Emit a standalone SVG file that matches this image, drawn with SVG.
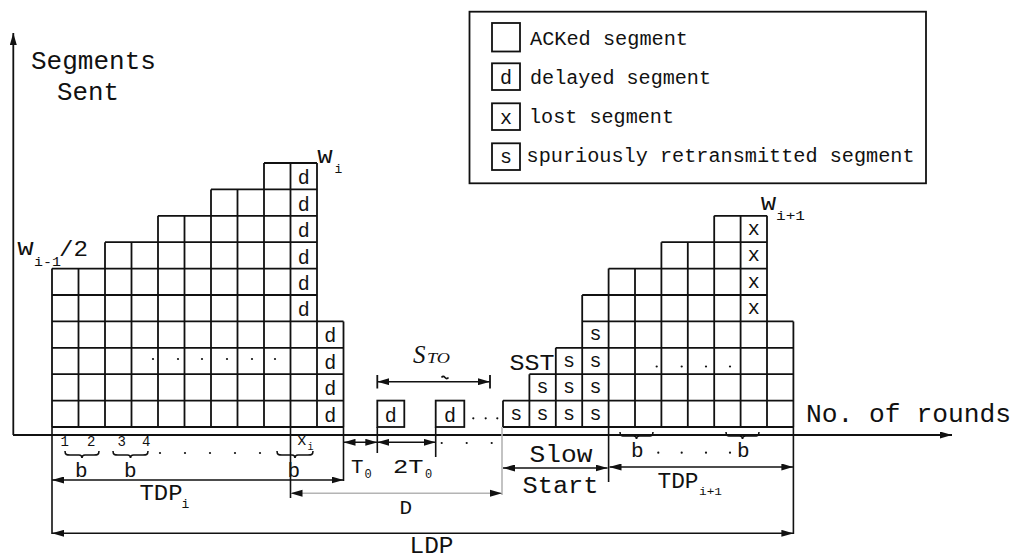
<svg xmlns="http://www.w3.org/2000/svg" width="1015" height="559" viewBox="0 0 1015 559">
<defs>
<style>
.ln{fill:none;stroke:#111;stroke-width:1.8}
.ext{fill:none;stroke:#111;stroke-width:1.6}
.gr{fill:none;stroke:#b4b4b4;stroke-width:1.6}
.m{font-family:"Liberation Mono","Courier New",monospace;fill:#111}
.it{font-family:"Liberation Serif","Times New Roman",serif;font-style:italic;fill:#111}
.c{font-size:20px;text-anchor:middle}
.dot{fill:#111}
</style>
<marker id="ah" viewBox="0 0 12 7" markerWidth="12" markerHeight="7" refX="12" refY="3.5" orient="auto-start-reverse" markerUnits="userSpaceOnUse">
<path d="M0,0 L12,3.5 L0,7 z" fill="#111"/>
</marker>
</defs>
<rect width="1015" height="559" fill="#fff"/>

<!-- axes -->
<g id="axes">
<path class="ln" d="M13.3,435 V33" marker-end="url(#ah)"/>
<path class="ln" d="M13,435 H952" marker-end="url(#ah)"/>
<text class="m" x="31" y="69" font-size="25" textLength="125" lengthAdjust="spacingAndGlyphs">Segments</text>
<text class="m" x="57" y="100" font-size="25" textLength="62" lengthAdjust="spacingAndGlyphs">Sent</text>
<text class="m" x="806" y="421.5" font-size="25" textLength="205" lengthAdjust="spacingAndGlyphs">No. of rounds</text>
</g>

<!-- window i: congestion avoidance rounds, last segments delayed -->
<g id="window-i">
<path class="ln" d="M52,427 H343.5 M52,400.6 H343.5 M52,374.2 H343.5 M52,347.8 H343.5 M52,321.4 H343.5 M52,295 H317 M52,268.6 H317 M105,242.2 H317 M158,215.8 H317 M211,189.4 H317 M264,163 H317"/>
<path class="ln" d="M52,268.6 V427 M78.5,268.6 V427 M105,242.2 V427 M131.5,242.2 V427 M158,215.8 V427 M184.5,215.8 V427 M211,189.4 V427 M237.5,189.4 V427 M264,163 V427 M290.5,163 V427 M317,163 V427 M343.5,321.4 V427"/>
<g class="m c">
<text x="303.8" y="184.4">d</text>
<text x="303.8" y="210.8">d</text>
<text x="303.8" y="237.2">d</text>
<text x="303.8" y="263.6">d</text>
<text x="303.8" y="290">d</text>
<text x="303.8" y="316.4">d</text>
<text x="330.3" y="342.4">d</text>
<text x="330.3" y="368.8">d</text>
<text x="330.3" y="395.2">d</text>
<text x="330.3" y="421.6">d</text>
</g>
<g class="dot">
<circle cx="153" cy="359" r="1.1"/><circle cx="178" cy="359" r="1.1"/><circle cx="202" cy="359" r="1.1"/>
<circle cx="227" cy="359" r="1.1"/><circle cx="252" cy="359" r="1.1"/><circle cx="275" cy="359" r="1.1"/>
</g>
<text class="m" x="317.5" y="163" font-size="20" textLength="15" lengthAdjust="spacingAndGlyphs">W</text>
<text class="m" x="334.5" y="173" font-size="13">i</text>
<text class="m" x="17.5" y="255" font-size="20" textLength="16" lengthAdjust="spacingAndGlyphs">W</text>
<text class="m" x="34" y="266" font-size="13" textLength="27" lengthAdjust="spacingAndGlyphs">i-1</text>
<text class="m" x="59" y="256" font-size="22" textLength="29" lengthAdjust="spacingAndGlyphs">/2</text>
</g>

<!-- timeout retransmissions of the delayed segment -->
<g id="timeouts">
<rect class="ln" x="377.3" y="400.6" width="27" height="26.4"/>
<rect class="ln" x="435.7" y="400.6" width="28.6" height="26.4"/>
<text class="m c" x="390.8" y="421.6">d</text>
<text class="m c" x="450" y="421.6">d</text>
<g class="dot">
<circle cx="473.3" cy="418.3" r="1.1"/><circle cx="485.7" cy="418.3" r="1.1"/><circle cx="497.3" cy="418.3" r="1.1"/>
</g>
<text class="it" x="413" y="363" font-size="25">S</text>
<text class="it" x="427" y="363" font-size="15" textLength="23" lengthAdjust="spacingAndGlyphs">TO</text>
</g>

<!-- window i+1: slow start with spurious retransmissions, then congestion avoidance -->
<g id="window-i1">
<path class="ln" d="M503,427 H793.4 M503,400.6 H793.4 M529.4,374.2 H793.4 M555.8,347.8 H793.4 M582.2,321.4 H793.4 M582.2,295 H767 M608.6,268.6 H767 M661.4,242.2 H767 M714.2,215.8 H767"/>
<path class="ln" d="M503,400.6 V427 M529.4,374.2 V427 M555.8,347.8 V427 M582.2,295 V427 M608.6,268.6 V427 M635,268.6 V427 M661.4,242.2 V427 M687.8,242.2 V427 M714.2,215.8 V427 M740.6,215.8 V427 M767,215.8 V427 M793.4,321.4 V427"/>
<g class="m c">
<text x="516.2" y="419.5">s</text>
<text x="542.6" y="419.5">s</text>
<text x="542.6" y="393.1">s</text>
<text x="569" y="419.5">s</text>
<text x="569" y="393.1">s</text>
<text x="569" y="366.7">s</text>
<text x="595.4" y="419.5">s</text>
<text x="595.4" y="393.1">s</text>
<text x="595.4" y="366.7">s</text>
<text x="595.4" y="340.3">s</text>
<text x="753.8" y="313.9">x</text>
<text x="753.8" y="287.5">x</text>
<text x="753.8" y="261.1">x</text>
<text x="753.8" y="234.7">x</text>
</g>
<g class="dot">
<circle cx="656.7" cy="366.5" r="1.1"/><circle cx="681.7" cy="366.5" r="1.1"/><circle cx="706" cy="366.5" r="1.1"/><circle cx="730" cy="366.5" r="1.1"/>
</g>
<text class="m" x="509.5" y="369.5" font-size="22" textLength="45" lengthAdjust="spacingAndGlyphs">SST</text>
<text class="m" x="761" y="210" font-size="20" textLength="15" lengthAdjust="spacingAndGlyphs">W</text>
<text class="m" x="776" y="220" font-size="13" textLength="29" lengthAdjust="spacingAndGlyphs">i+1</text>
</g>

<!-- legend -->
<g id="legend">
<rect class="ln" x="469.5" y="11.7" width="456.5" height="171.6"/>
<rect class="ln" x="492" y="23" width="28" height="28.5"/>
<rect class="ln" x="492" y="63.3" width="28" height="26.7"/>
<rect class="ln" x="492" y="103.3" width="28" height="26.7"/>
<rect class="ln" x="492" y="143.3" width="28" height="26.7"/>
<text class="m c" x="506" y="84">d</text>
<text class="m c" x="506" y="123.5">x</text>
<text class="m c" x="506" y="162.5">s</text>
<text class="m" x="530" y="45" font-size="20" textLength="158" lengthAdjust="spacingAndGlyphs">ACKed segment</text>
<text class="m" x="530" y="83.5" font-size="20" textLength="181" lengthAdjust="spacingAndGlyphs">delayed segment</text>
<text class="m" x="529" y="122.5" font-size="20" textLength="145" lengthAdjust="spacingAndGlyphs">lost segment</text>
<text class="m" x="526.5" y="162" font-size="20" textLength="388" lengthAdjust="spacingAndGlyphs">spuriously retransmitted segment</text>
</g>

<!-- dimension lines, extension lines and braces -->
<g id="connectors">
<path class="ext" d="M52,427 V534 M290.5,427 V498 M343.5,427 V481 M377.3,427 V453 M435.7,427 V457 M608.6,427 V482 M793.4,427 V534"/>
<path class="gr" d="M502,427 V495"/>
<path class="ext" d="M52,480 H343.5" marker-start="url(#ah)" marker-end="url(#ah)"/>
<path class="ext" d="M343.5,442.3 H377.3" marker-start="url(#ah)" marker-end="url(#ah)"/>
<path class="ext" d="M377.3,442.3 H435.7" marker-start="url(#ah)" marker-end="url(#ah)"/>
<path class="gr" d="M291,493.3 H501.5"/>
<path d="M290.5,493.3 l12,-3.5 v7 z M502,493.3 l-12,-3.5 v7 z" fill="#111"/>
<path class="ext" d="M52,533.3 H793.4" marker-start="url(#ah)" marker-end="url(#ah)"/>
<path class="ext" d="M503,468 H607.5" marker-start="url(#ah)" marker-end="url(#ah)"/>
<path class="ext" d="M609.5,467 H793.4" marker-start="url(#ah)" marker-end="url(#ah)"/>
<path class="ext" d="M377.3,381.7 H490" marker-start="url(#ah)" marker-end="url(#ah)"/>
<path class="ln" d="M377.3,375 V388.5 M490,375 V388.5"/>
<path class="ext" d="M441.5,377.5 q1.7,-2.2 3.5,0 q1.8,2.2 3.5,0" stroke-width="1.2"/>
<path class="ext" stroke-width="1.5" d="M65,451 C65,455 67,455 70,455 H79 C81,455 82,456 82,458 C82,456 83,455 85,455 H94 C97,455 99,455 99,451 M113,451 C113,455 115,455 118,455 H127.5 C129.5,455 130.5,456 130.5,458 C130.5,456 131.5,455 133.5,455 H143 C146,455 148,455 148,451 M277,451 C277,455 279,455 282,455 H292 C294,455 295,456 295,458 C295,456 296,455 298,455 H308 C311,455 313,455 313,451 M620,432 C620,436 622,436 625,436 H633.5 C635.5,436 636.5,437 636.5,439 C636.5,437 637.5,436 639.5,436 H648 C651,436 653,436 653,432 M726,432 C726,436 728,436 731,436 H739.5 C741.5,436 742.5,437 742.5,439 C742.5,437 743.5,436 745.5,436 H754 C757,436 759,436 759,432"/>
</g>

<!-- round / period labels along the time axis -->
<g id="labels">
<text class="m" x="60.5" y="446" font-size="14">1</text>
<text class="m" x="87" y="446" font-size="14">2</text>
<text class="m" x="117.5" y="446" font-size="14">3</text>
<text class="m" x="142" y="446" font-size="14">4</text>
<text class="m" x="297" y="445" font-size="16">x</text>
<text class="m" x="307.5" y="450" font-size="10">i</text>
<text class="m" x="75" y="476.5" font-size="21">b</text>
<text class="m" x="124" y="476.5" font-size="21">b</text>
<text class="m" x="287.5" y="476.5" font-size="21">b</text>
<g class="dot">
<circle cx="160" cy="453" r="1.1"/><circle cx="185" cy="453" r="1.1"/><circle cx="210" cy="453" r="1.1"/><circle cx="235" cy="453" r="1.1"/><circle cx="260" cy="453" r="1.1"/>
<circle cx="441.7" cy="443" r="1.1"/><circle cx="466.7" cy="443" r="1.1"/><circle cx="491.7" cy="443" r="1.1"/>
<circle cx="658.3" cy="452.7" r="1.1"/><circle cx="681.7" cy="452.7" r="1.1"/><circle cx="706" cy="452.7" r="1.1"/><circle cx="730" cy="452.7" r="1.1"/>
</g>
<text class="m" x="631" y="456.7" font-size="21">b</text>
<text class="m" x="737" y="456.7" font-size="21">b</text>
<text class="m" x="351" y="473.3" font-size="20" textLength="12.5" lengthAdjust="spacingAndGlyphs">T</text>
<text class="m" x="364.5" y="478" font-size="12">0</text>
<text class="m" x="393" y="473.3" font-size="20" textLength="30.5" lengthAdjust="spacingAndGlyphs">2T</text>
<text class="m" x="425" y="478" font-size="12">0</text>
<text class="m" x="139.5" y="500" font-size="22" textLength="43" lengthAdjust="spacingAndGlyphs">TDP</text>
<text class="m" x="181.5" y="508" font-size="13">i</text>
<text class="m" x="399.5" y="513.5" font-size="21">D</text>
<text class="m" x="409.5" y="553" font-size="23" textLength="44" lengthAdjust="spacingAndGlyphs">LDP</text>
<text class="m" x="529.5" y="461.7" font-size="23" textLength="63" lengthAdjust="spacingAndGlyphs">Slow</text>
<text class="m" x="522.5" y="493.3" font-size="23" textLength="76" lengthAdjust="spacingAndGlyphs">Start</text>
<text class="m" x="657.5" y="488.3" font-size="22" textLength="41" lengthAdjust="spacingAndGlyphs">TDP</text>
<text class="m" x="699" y="495" font-size="11" textLength="23" lengthAdjust="spacingAndGlyphs">i+1</text>
</g>
</svg>
